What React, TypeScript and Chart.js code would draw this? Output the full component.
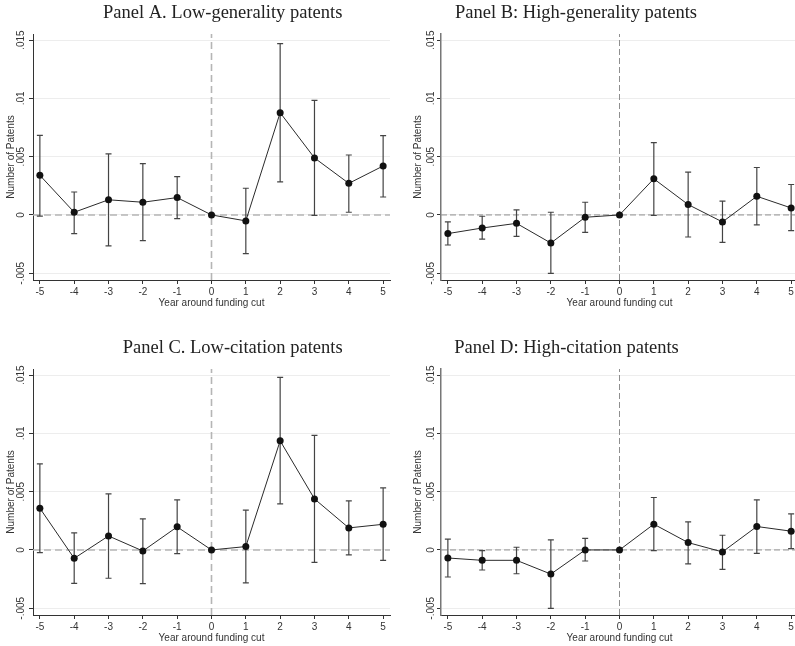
import React, { useEffect, useRef } from "react";
import { Chart, registerables } from "chart.js";

Chart.register(...registerables);

const YEARS = [-5, -4, -3, -2, -1, 0, 1, 2, 3, 4, 5];
const X_TICKS = [-5, -4, -3, -2, -1, 0, 1, 2, 3, 4, 5];
const Y_TICKS = [-0.005, 0, 0.005, 0.01, 0.015];
const Y_TICK_LABELS = ["-.005", "0", ".005", ".01", ".015"];
const X_TITLE = "Year around funding cut";
const Y_TITLE = "Number of Patents";

const A_COEF = [0.0034, 0.00023, 0.0013, 0.00109, 0.00149, 0, -0.00051, 0.00877, 0.00489, 0.00271, 0.0042];
const A_LO = [-0.0001, -0.0016, -0.00266, -0.0022, -0.00031, null, -0.00331, 0.00283, -0.00003, 0.00023, 0.00154];
const A_HI = [0.00683, 0.00197, 0.00523, 0.0044, 0.00329, null, 0.00229, 0.01469, 0.00983, 0.00514, 0.0068];

const B_COEF = [-0.0016, -0.00112, -0.00072, -0.00241, -0.0002, 0, 0.0031, 0.00089, -0.0006, 0.0016, 0.0006];
const B_LO = [-0.00258, -0.00207, -0.00184, -0.00502, -0.00149, null, -0.00003, -0.00189, -0.00235, -0.00086, -0.00135];
const B_HI = [-0.0006, -0.00011, 0.00043, 0.00023, 0.00109, null, 0.0062, 0.00367, 0.00118, 0.00407, 0.00261];

const C_COEF = [0.00358, -0.00072, 0.0012, -0.00009, 0.00198, 0, 0.00029, 0.00936, 0.00438, 0.00189, 0.0022];
const C_LO = [-0.00023, -0.00286, -0.00243, -0.00289, -0.00031, null, -0.00283, 0.00395, -0.00106, -0.00043, -0.00089];
const C_HI = [0.00738, 0.00146, 0.00481, 0.00266, 0.00429, null, 0.00341, 0.0148, 0.00982, 0.00421, 0.00532];

const D_COEF = [-0.00069, -0.00089, -0.00089, -0.00207, 0, 0, 0.00221, 0.00063, -0.00017, 0.00201, 0.00161];
const D_LO = [-0.00232, -0.00172, -0.00204, -0.00502, -0.00095, null, -0.00006, -0.0012, -0.00166, -0.00029, 0.00011];
const D_HI = [0.00092, -0.00006, 0.00023, 0.00086, 0.001, null, 0.0045, 0.00241, 0.00126, 0.0043, 0.0031];

const X_MIN = -5.2;
const X_MAX = 5.2;
const Y_MIN = -0.00558;
const Y_MAX = 0.01552;

type PanelDef = {
  title: string;
  coef: number[];
  lo: (number | null)[];
  hi: (number | null)[];
  left: number;
  top: number;
  width: number;
  yAxisWidth: number;
  padRight: number;
  tickLabelX: number;
  axisTitleX: number;
  titleX: number;
  refColor: string;
  refWidth: number;
  refDash: number[];
  yBorderColor: string;
  yBorderWidth: number;
};

const PANELS: PanelDef[] = [
  {
    title: "Panel A. Low-generality patents",
    coef: A_COEF, lo: A_LO, hi: A_HI,
    left: 0, top: 0, width: 400, yAxisWidth: 33, padRight: 10,
    tickLabelX: 21.7, axisTitleX: 11, titleX: 103,
    refColor: "#b5b5b5", refWidth: 1.6, refDash: [7, 4],
    yBorderColor: "#333", yBorderWidth: 1,
  },
  {
    title: "Panel B: High-generality patents",
    coef: B_COEF, lo: B_LO, hi: B_HI,
    left: 400, top: 0, width: 410, yAxisWidth: 41, padRight: 12,
    tickLabelX: 31.7, axisTitleX: 18, titleX: 55,
    refColor: "#8f8f8f", refWidth: 1, refDash: [6, 3],
    yBorderColor: "#777", yBorderWidth: 1.5,
  },
  {
    title: "Panel C. Low-citation patents",
    coef: C_COEF, lo: C_LO, hi: C_HI,
    left: 0, top: 335, width: 400, yAxisWidth: 33, padRight: 10,
    tickLabelX: 21.7, axisTitleX: 11, titleX: 122.7,
    refColor: "#b5b5b5", refWidth: 1.6, refDash: [7, 4],
    yBorderColor: "#333", yBorderWidth: 1,
  },
  {
    title: "Panel D: High-citation patents",
    coef: D_COEF, lo: D_LO, hi: D_HI,
    left: 400, top: 335, width: 410, yAxisWidth: 41, padRight: 12,
    tickLabelX: 31.7, axisTitleX: 18, titleX: 54.3,
    refColor: "#8f8f8f", refWidth: 1, refDash: [6, 3],
    yBorderColor: "#777", yBorderWidth: 1.5,
  },
];

const CANVAS_H = 311;

function Panel({ p }: { p: PanelDef }) {
  const ref = useRef<HTMLCanvasElement | null>(null);

  useEffect(() => {
    if (!ref.current) return;

    const errorBars = {
      id: "errorBars",
      beforeDatasetDraw(chart: any, args: any) {
        if (args.index !== 0) return;
        const { ctx, scales } = chart;
        const xs = scales.x;
        const ys = scales.y;
        ctx.save();
        ctx.strokeStyle = "#444";
        ctx.lineWidth = 1.2;
        YEARS.forEach((yr, i) => {
          const lo = p.lo[i];
          const hi = p.hi[i];
          if (lo == null || hi == null) return;
          const x = xs.getPixelForValue(yr);
          const y1 = ys.getPixelForValue(lo);
          const y2 = ys.getPixelForValue(hi);
          ctx.beginPath();
          ctx.moveTo(x, y1);
          ctx.lineTo(x, y2);
          ctx.moveTo(x - 3, y1);
          ctx.lineTo(x + 3, y1);
          ctx.moveTo(x - 3, y2);
          ctx.lineTo(x + 3, y2);
          ctx.stroke();
        });
        ctx.restore();
      },
    };

    const texts = {
      id: "texts",
      afterDraw(chart: any) {
        const { ctx, scales, chartArea } = chart;
        const ys = scales.y;
        ctx.save();
        ctx.fillStyle = "#222";
        ctx.font = '18.5px "Liberation Serif"';
        ctx.textAlign = "left";
        ctx.textBaseline = "alphabetic";
        ctx.fillText(p.title, p.titleX, 17.5);
        ctx.font = '10px "Liberation Sans"';
        ctx.fillStyle = "#333";
        ctx.textAlign = "center";
        ctx.textBaseline = "middle";
        Y_TICKS.forEach((v, i) => {
          const y = ys.getPixelForValue(v);
          ctx.save();
          ctx.translate(p.tickLabelX, y);
          ctx.rotate(-Math.PI / 2);
          ctx.fillText(Y_TICK_LABELS[i], 0, 0);
          ctx.restore();
        });
        ctx.save();
        ctx.translate(p.axisTitleX, (chartArea.top + chartArea.bottom) / 2);
        ctx.rotate(-Math.PI / 2);
        ctx.fillText(Y_TITLE, 0, 0);
        ctx.restore();
        ctx.fillText(X_TITLE, (chartArea.left + chartArea.right) / 2, 303);
        ctx.restore();
      },
    };

    const chart = new Chart(ref.current, {
      type: "line",
      data: {
        datasets: [
          {
            data: YEARS.map((x, i) => ({ x, y: p.coef[i] })),
            borderColor: "#2a2a2a",
            borderWidth: 1,
            pointRadius: 3.5,
            pointBackgroundColor: "#111",
            pointBorderColor: "#111",
            pointBorderWidth: 0,
            tension: 0,
          },
          {
            data: [{ x: X_MIN, y: 0 }, { x: X_MAX, y: 0 }],
            borderColor: p.refColor,
            borderWidth: p.refWidth,
            borderDash: p.refDash,
            pointRadius: 0,
          },
          {
            data: [{ x: 0, y: Y_MIN }, { x: 0, y: Y_MAX }],
            borderColor: p.refColor,
            borderWidth: p.refWidth,
            borderDash: p.refDash,
            pointRadius: 0,
          },
        ],
      },
      options: {
        animation: false,
        responsive: false,
        events: [],
        layout: { padding: { top: 34, right: p.padRight, left: 0, bottom: 0 } },
        plugins: {
          legend: { display: false },
          tooltip: { enabled: false },
          title: { display: false },
        },
        scales: {
          x: {
            type: "linear",
            min: X_MIN,
            max: X_MAX,
            afterBuildTicks: (s: any) => {
              s.ticks = X_TICKS.map((v) => ({ value: v }));
            },
            afterFit: (s: any) => {
              s.height = 31;
            },
            ticks: {
              autoSkip: false,
              maxRotation: 0,
              padding: 2,
              color: "#333",
              font: { family: "Liberation Sans", size: 10 },
              callback: (v: any) => String(v),
            },
            grid: {
              display: true,
              drawOnChartArea: false,
              drawTicks: true,
              tickLength: 4,
              tickColor: "#333",
            },
            border: { display: true, color: "#333", width: 1 },
          },
          y: {
            type: "linear",
            min: Y_MIN,
            max: Y_MAX,
            afterBuildTicks: (s: any) => {
              s.ticks = Y_TICKS.map((v) => ({ value: v }));
            },
            afterFit: (s: any) => {
              s.width = p.yAxisWidth;
            },
            ticks: { display: false },
            grid: {
              display: true,
              drawOnChartArea: true,
              color: "#ededed",
              lineWidth: 1,
              drawTicks: true,
              tickLength: 4,
              tickColor: "#333",
            },
            border: { display: true, color: p.yBorderColor, width: p.yBorderWidth },
          },
        },
      },
      plugins: [errorBars, texts],
    } as any);

    return () => chart.destroy();
  }, [p]);

  return (
    <canvas
      ref={ref}
      width={p.width}
      height={CANVAS_H}
      style={{ position: "absolute", left: p.left, top: p.top, width: p.width, height: CANVAS_H }}
    />
  );
}

export default function App() {
  return (
    <div
      style={{
        position: "fixed",
        left: 0,
        top: 0,
        width: 795,
        height: 646,
        overflow: "hidden",
        background: "#fff",
      }}
    >
      {PANELS.map((p, i) => (
        <Panel key={i} p={p} />
      ))}
    </div>
  );
}
